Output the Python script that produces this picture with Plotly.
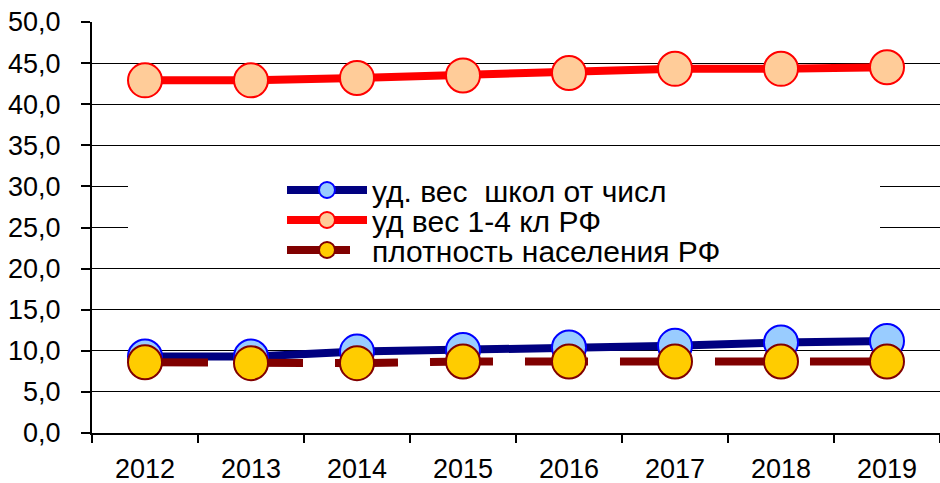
import plotly.graph_objects as go

years = ["2012", "2013", "2014", "2015", "2016", "2017", "2018", "2019"]
schools_share = [9.3, 9.3, 9.9, 10.1, 10.4, 10.6, 11.0, 11.2]
grades_share = [42.9, 42.9, 43.2, 43.5, 43.8, 44.3, 44.3, 44.5]
density = [8.6, 8.5, 8.5, 8.7, 8.7, 8.7, 8.7, 8.7]
y_ticks = [0, 5, 10, 15, 20, 25, 30, 35, 40, 45, 50]
y_tick_labels = [f"{v:.1f}".replace(".", ",") + "\u00a0\u00a0" for v in y_ticks]

names = ["уд. вес  школ от числ", "уд вес 1-4 кл РФ", "плотность населения РФ"]

W, H = 940, 483
L, T, B = 92, 22, 50
PW, PH = W - L, H - T - B


def px_x(page_x):
    return (page_x - L) / PW


def px_y(page_y):
    return (H - B - page_y) / PH


fig = go.Figure()
fig.add_trace(go.Scatter(
    x=years, y=schools_share, name=names[0], mode="lines+markers", legend="legend",
    line=dict(color="#000080", width=8),
    marker=dict(size=34, color="#99CCFF", line=dict(color="#0000FF", width=2)),
))
fig.add_trace(go.Scatter(
    x=years, y=grades_share, name=names[1], mode="lines+markers", legend="legend2",
    line=dict(color="#FF0000", width=8),
    marker=dict(size=34, color="#FFCC99", line=dict(color="#FF0000", width=2)),
))
fig.add_trace(go.Scatter(
    x=years, y=density, name=names[2], mode="lines+markers", legend="legend3",
    line=dict(color="#800000", width=8, dash="63px,32px"),
    marker=dict(size=34, color="#FFCC00", line=dict(color="#800000", width=2)),
))

# white area behind the legend hiding the gridlines (no data lies there)
fig.add_shape(type="rect", xref="paper", yref="paper",
              x0=px_x(128), x1=px_x(880), y0=px_y(266), y1=px_y(172),
              fillcolor="white", line=dict(width=0), layer="above")

font = "Liberation Sans, Arial, sans-serif"


def leg(page_y):
    return dict(
        xref="paper", yref="paper", x=px_x(282), y=px_y(page_y),
        xanchor="left", yanchor="middle",
        bgcolor="rgba(0,0,0,0)", font=dict(size=30, family=font, color="black"),
        itemwidth=80, itemsizing="trace",
    )


fig.update_layout(
    width=W, height=H,
    margin=dict(l=L, r=0, t=T, b=B, autoexpand=False),
    paper_bgcolor="white", plot_bgcolor="white",
    font=dict(family=font, size=27, color="black"),
    showlegend=True,
    legend=leg(190), legend2=leg(220), legend3=leg(250),
    xaxis=dict(
        type="category", showline=True, linecolor="black", linewidth=2,
        ticks="outside", ticklen=8, tickcolor="black", tickwidth=1.5,
        tickson="boundaries", showgrid=False, tickangle=0,
        tickfont=dict(size=27), range=[-0.5, 7.5], ticklabelstandoff=11,
    ),
    yaxis=dict(
        range=[0, 50], tickmode="array", tickvals=y_ticks, ticktext=y_tick_labels,
        showline=True, linecolor="black", linewidth=2,
        ticks="outside", ticklen=9, tickcolor="black", tickwidth=1.5,
        showgrid=True, gridcolor="black", gridwidth=1,
        zeroline=False, tickfont=dict(size=27),
    ),
)

fig.write_html("out.html", config={"displayModeBar": False},
               post_script="document.body.style.margin='0';")
